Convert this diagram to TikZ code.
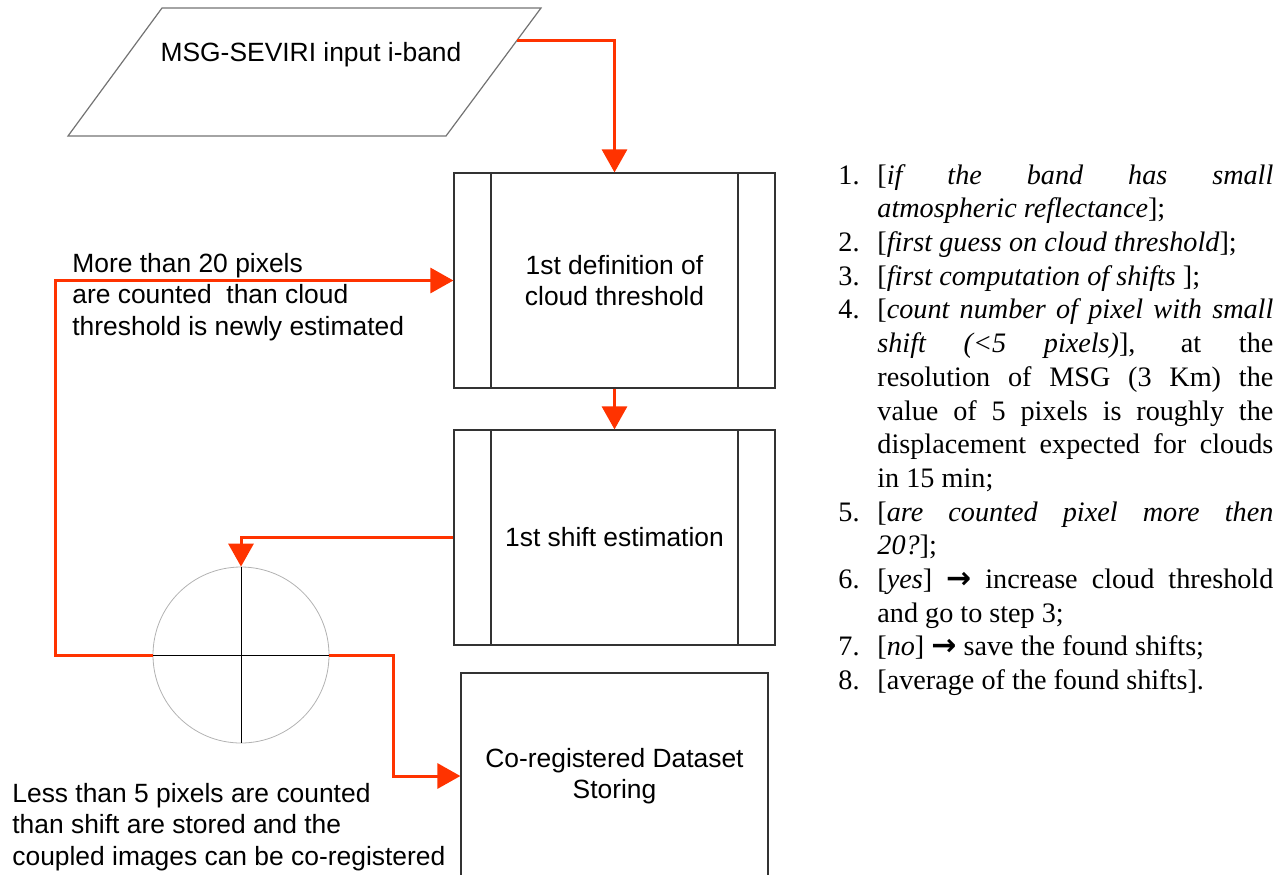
\documentclass[tikz,border=0pt]{standalone}
\usepackage{fontspec}
\setmainfont{Liberation Serif}
\setsansfont{Liberation Sans}
\newfontfamily\arrowfont{DejaVu Sans}
\usepackage{enumitem}
\usetikzlibrary{positioning,arrows.meta}
\definecolor{flowred}{RGB}{255,51,0}
\newcommand{\thenarrow}{{\arrowfont\bfseries\fontsize{15}{15}\selectfont →}}

\begin{document}
\begin{tikzpicture}[x=0.5pt,y=-0.5pt,
        flow/.style={draw=flowred, line width=1.5pt, -{Triangle[length=11.5pt,width=12.5pt]}},
        sans/.style={font=\sffamily\fontsize{13.2}{15.6}\selectfont},
        proc/.style={sans, draw=black!80, line width=0.6pt, minimum width=160.5pt, minimum height=107.5pt, align=center,
            path picture={\draw[black!80, line width=0.6pt]
                ([xshift=18.5pt]path picture bounding box.north west) -- ([xshift=18.5pt]path picture bounding box.south west)
                ([xshift=-18.5pt]path picture bounding box.north east) -- ([xshift=-18.5pt]path picture bounding box.south east);}},
        note/.style={sans, anchor=west, align=left, inner sep=0pt}]
    \clip (0,0) rectangle (1286,874);
    % input band
    \draw[black!55, line width=0.6pt] (162,8) -- (541,8) -- (446,136) -- (68,136) -- cycle;
    \node[sans] (band) at (311,55) {MSG-SEVIRI input i-band};
    \coordinate (bandR) at (517,40);
    % processing boxes
    \node[proc] (thres) at (614.5,280.5) {1st definition of\\cloud threshold};
    \node[proc] (shift) at (614.5,537.5) {1st shift estimation};
    \node[sans, draw=black!80, line width=0.6pt, minimum width=153.5pt, minimum height=103pt, align=center] (store) at (614.5,776) {Co-registered Dataset\\Storing};
    % test
    \node[circle, draw=black!30, line width=0.4pt, minimum size=88pt, inner sep=0pt] (test) at (241,655) {};
    \draw[line width=0.5pt] (test.north) -- (test.south) (test.west) -- (test.east);
    % flow
    \draw[flow] (bandR) -| (thres.north);
    \draw[flow] (thres) -- (shift);
    \draw[flow] (shift.west) -| (test.north);
    \draw[flow] (test.west) -- ++(-97,0) |- (thres.west);
    \draw[flow] (test.east) -- ++(64,0) |- (store.west);
    \node[note] (more) at (72,297) {More than 20 pixels\\are counted\ \ than cloud\\threshold is newly estimated};
    \node[note] (less) at (12,827) {Less than 5 pixels are counted\\than shift are stored and the\\coupled images can be co-registered};
    % steps
    \node[anchor=north west, inner sep=0pt, text width=217.5pt, align=justify, font=\fontsize{14.1}{16.85}\selectfont] (steps) at (838,150) {%
        \hyphenpenalty=10000 \exhyphenpenalty=10000
        \begin{enumerate}[leftmargin=19.5pt, labelwidth=13.5pt, labelsep=6pt, align=left, itemsep=0pt, topsep=0pt, parsep=0pt, partopsep=0pt]
            \item {[}\textit{if the band has small}\linebreak \textit{atmospheric reflectance}];
            \item {[}\textit{first guess on cloud threshold}];
            \item {[}\textit{first computation of shifts}\ ];
            \item {[}\textit{count number of pixel with small}\linebreak \textit{shift (<5 pixels)}], at the\linebreak resolution of MSG (3 Km) the\linebreak value of 5 pixels is roughly the\linebreak displacement expected for clouds\linebreak in 15 min;
            \item {[}\textit{are counted pixel more then}\linebreak \textit{20?}];
            \item {[}\textit{yes}] \thenarrow{} increase cloud threshold\linebreak and go to step 3;
            \item {[}\textit{no}] \thenarrow{} save the found shifts;
            \item {[}average of the found shifts].
        \end{enumerate}};
\end{tikzpicture}
\end{document}
